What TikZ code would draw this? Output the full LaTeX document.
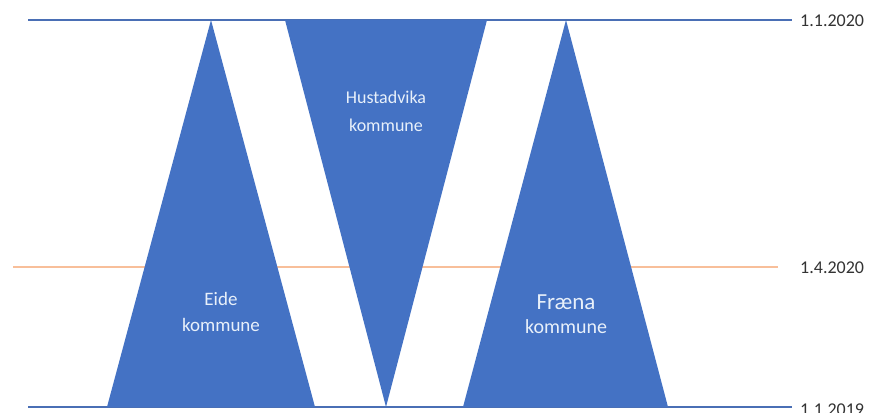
\documentclass[tikz,border=0pt]{standalone}
\usepackage{fontspec}
\setmainfont{Carlito}
\definecolor{tblue}{HTML}{4472C4}
\definecolor{tline}{HTML}{4A6FB5}
\definecolor{torange}{HTML}{F8BF9A}
\definecolor{ttext}{HTML}{E8F0FA}
\definecolor{dlabel}{HTML}{333333}
\begin{document}
\begin{tikzpicture}[x=1pt,y=-1pt,
  tri/.style={fill=tblue,draw=none},
  tlab/.style={text=ttext,font=\fontsize{19}{22}\selectfont,inner sep=0pt},
  dlab/.style={text=dlabel,font=\fontsize{18}{20}\selectfont,anchor=west,inner sep=0pt},
  hline/.style={draw=tline,line width=1.6pt},
  oline/.style={draw=torange,line width=1.8pt}]
\useasboundingbox (0,0) rectangle (872,412);
\fill[white] (0,0) rectangle (872,412);
% lines
\coordinate (t1) at (28,20); \coordinate (t2) at (792,20);
\coordinate (o1) at (13,267); \coordinate (o2) at (778,267);
\coordinate (b1) at (28,407); \coordinate (b2) at (792,407);
\draw[hline] (t1) -- (t2);
\draw[oline] (o1) -- (o2);
\draw[hline] (b1) -- (b2);
% triangles
\coordinate (ea) at (211,20); \coordinate (el) at (107,407); \coordinate (er) at (315,407);
\coordinate (hl) at (285,20); \coordinate (hr) at (487,20); \coordinate (ha) at (386,407);
\coordinate (fa) at (566,20); \coordinate (fl) at (463,407); \coordinate (fr) at (668,407);
\fill[tri] (ea) -- (el) -- (er) -- cycle;
\fill[tri] (hl) -- (hr) -- (ha) -- cycle;
\fill[tri] (fa) -- (fl) -- (fr) -- cycle;
% labels
\node[tlab] (eide1) at (221,299) {Eide};
\node[tlab] (eide2) at (221,325) {kommune};
\node[tlab,font=\fontsize{18}{22}\selectfont] (hust1) at (386,97) {Hustadvika};
\node[tlab,font=\fontsize{18}{22}\selectfont] (hust2) at (386,125) {kommune};
\node[tlab,font=\fontsize{23}{26}\selectfont] (fr1) at (566,302) {Fræna};
\node[tlab,font=\fontsize{20}{24}\selectfont] (fr2) at (566,327) {kommune};
\node[dlab] (d1) at (800,21) {1.1.2020};
\node[dlab] (d2) at (800,268) {1.4.2020};
\node[dlab] (d3) at (800,410) {1.1.2019};
\end{tikzpicture}
\end{document}
